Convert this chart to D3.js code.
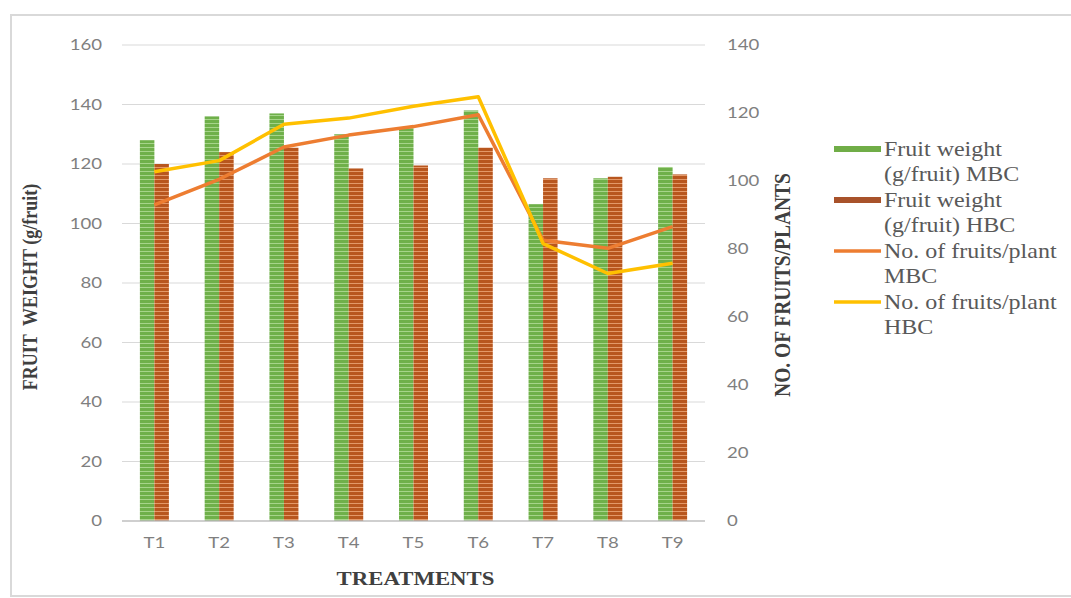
<!DOCTYPE html>
<html>
<head>
<meta charset="utf-8">
<script src="https://cdn.jsdelivr.net/npm/d3@7"></script>
<style>
  html, body { margin: 0; padding: 0; background: #fff; }
  svg { display: block; }
</style>
</head>
<body>
<svg id="chart" width="1071" height="598"></svg>
<script>
// Treatments on the x axis
const treatments = ["T1", "T2", "T3", "T4", "T5", "T6", "T7", "T8", "T9"];

// Fruit weight (g/fruit), left axis
const weightMBC = [128, 136, 137, 130, 132, 138, 106.5, 115.2, 119];
const weightHBC = [120, 124, 125.5, 118.5, 119.5, 125.5, 115.2, 115.7, 116.5];

// Number of fruits per plant, right axis
const fruitsMBC = [93, 100.5, 110, 113.5, 116, 119.5, 82.6, 80.2, 86.6];
const fruitsHBC = [102.7, 106, 116.7, 118.5, 122, 124.8, 81.6, 72.8, 75.8];

// Tick values
const leftTicks = [0, 20, 40, 60, 80, 100, 120, 140, 160];
const rightTicks = [0, 20, 40, 60, 80, 100, 120, 140];

const legendItems = [
  { lines: ["Fruit weight", "(g/fruit) MBC"], kind: "bar", color: "#70AD47" },
  { lines: ["Fruit weight", "(g/fruit) HBC"], kind: "bar", color: "#A8522A" },
  { lines: ["No. of fruits/plant", "MBC"], kind: "line", color: "#ED7D31" },
  { lines: ["No. of fruits/plant", "HBC"], kind: "line", color: "#FFC000" }
];

const svg = d3.select("#chart");
const plot = { left: 122, right: 705, top: 45, bottom: 521 };
const sans = "Lato, 'Open Sans', sans-serif";
const serif = "'Liberation Serif', 'Times New Roman', serif";
const widen = "scale(1.2,1)";

// Striped fills for the bars
const defs = svg.append("defs");
function stripes(id, base, light) {
  const p = defs.append("pattern")
    .attr("id", id).attr("patternUnits", "userSpaceOnUse")
    .attr("width", 4).attr("height", 4);
  p.append("rect").attr("width", 4).attr("height", 4).attr("fill", base);
  p.append("rect").attr("y", 3).attr("width", 4).attr("height", 1).attr("fill", light);
}
stripes("greenStripe", "#6FB04A", "#A6D48A");
stripes("brownStripe", "#B8561E", "#E39868");

// Outer frame
svg.append("rect")
  .attr("x", 11).attr("y", 15).attr("width", 1070).attr("height", 581)
  .attr("fill", "none").attr("stroke", "#d9d9d9").attr("stroke-width", 2);

const x = d3.scaleBand().domain(treatments).range([plot.left, plot.right]);
const x1 = d3.scaleBand().domain(["MBC", "HBC"]).range([0, 29]);
const yL = d3.scaleLinear().domain([0, 160]).range([plot.bottom, plot.top]);
const yR = d3.scaleLinear().domain([0, 140]).range([plot.bottom, plot.top]);

// Gridlines
svg.append("g").selectAll("line").data(leftTicks.filter(d => d > 0)).join("line")
  .attr("x1", plot.left).attr("x2", plot.right)
  .attr("y1", d => yL(d)).attr("y2", d => yL(d))
  .attr("stroke", "#d9d9d9").attr("stroke-width", 1.2);

function styleTicks(g) {
  g.select(".domain").remove();
  g.selectAll("text")
    .attr("font-family", sans).attr("font-size", 15.5)
    .attr("fill", "#7f7f7f").attr("transform", widen);
}

// Left axis
svg.append("g")
  .attr("transform", `translate(${plot.left - 20},0)`)
  .call(d3.axisLeft(yL).tickValues(leftTicks).tickSize(0).tickPadding(0))
  .call(styleTicks);

// Right axis
svg.append("g")
  .attr("transform", `translate(${plot.right + 22},0)`)
  .call(d3.axisRight(yR).tickValues(rightTicks).tickSize(0).tickPadding(0))
  .call(styleTicks);

// Bars
const groups = svg.append("g").selectAll("g").data(treatments).join("g")
  .attr("transform", d => `translate(${x(d) + x.bandwidth() / 2 - 14.5},0)`);
groups.append("rect")
  .attr("x", x1("MBC")).attr("width", x1.bandwidth())
  .attr("y", (d, i) => yL(weightMBC[i]))
  .attr("height", (d, i) => yL(0) - yL(weightMBC[i]))
  .attr("fill", "url(#greenStripe)");
groups.append("rect")
  .attr("x", x1("HBC")).attr("width", x1.bandwidth())
  .attr("y", (d, i) => yL(weightHBC[i]))
  .attr("height", (d, i) => yL(0) - yL(weightHBC[i]))
  .attr("fill", "url(#brownStripe)");

// Baseline
svg.append("line")
  .attr("x1", plot.left).attr("x2", plot.right)
  .attr("y1", yL(0)).attr("y2", yL(0))
  .attr("stroke", "#bfbfbf").attr("stroke-width", 1.5);

// X axis labels
svg.append("g")
  .attr("transform", `translate(0,${plot.bottom + 16})`)
  .call(d3.axisBottom(x).tickSize(0).tickPadding(0))
  .call(styleTicks);

// Lines on the right axis
const lineGen = d3.line()
  .x((d, i) => x(treatments[i]) + x.bandwidth() / 2)
  .y(d => yR(d));
svg.append("path").datum(fruitsMBC).attr("d", lineGen)
  .attr("fill", "none").attr("stroke", "#ED7D31").attr("stroke-width", 3.5)
  .attr("stroke-linejoin", "round");
svg.append("path").datum(fruitsHBC).attr("d", lineGen)
  .attr("fill", "none").attr("stroke", "#FFC000").attr("stroke-width", 3.5)
  .attr("stroke-linejoin", "round");

// Axis titles
svg.append("text")
  .attr("transform", `translate(37,${(plot.top + plot.bottom) / 2 + 4}) rotate(-90) scale(1,1.2)`)
  .attr("text-anchor", "middle").attr("font-family", serif)
  .attr("font-weight", "bold").attr("font-size", 18).attr("fill", "#404040")
  .attr("xml:space", "preserve")
  .text("FRUIT  WEIGHT (g/fruit)");
svg.append("text")
  .attr("transform", `translate(790,${(plot.top + plot.bottom) / 2 + 2}) rotate(-90) scale(1,1.2)`)
  .attr("text-anchor", "middle").attr("font-family", serif)
  .attr("font-weight", "bold").attr("font-size", 19.5).attr("fill", "#404040")
  .text("NO. OF FRUITS/PLANTS");
svg.append("text")
  .attr("transform", `translate(${(plot.left + plot.right) / 2 + 2},585) ${widen}`)
  .attr("text-anchor", "middle").attr("font-family", serif)
  .attr("font-weight", "bold").attr("font-size", 19).attr("fill", "#404040")
  .text("TREATMENTS");

// Legend
const legend = svg.append("g").attr("transform", "translate(834,149)");
legendItems.forEach((item, i) => {
  const g = legend.append("g").attr("transform", `translate(0,${i * 51})`);
  if (item.kind === "bar") {
    g.append("rect").attr("x", 0).attr("y", -3).attr("width", 47).attr("height", 6)
      .attr("fill", item.color);
  } else {
    g.append("line").attr("x1", 0).attr("x2", 47).attr("y1", 0).attr("y2", 0)
      .attr("stroke", item.color).attr("stroke-width", 3.5);
  }
  item.lines.forEach((t, j) => {
    g.append("text")
      .attr("transform", `translate(50,${7 + j * 25}) ${widen}`)
      .attr("font-family", serif).attr("font-size", 20).attr("fill", "#595959")
      .text(t);
  });
});
</script>
</body>
</html>
